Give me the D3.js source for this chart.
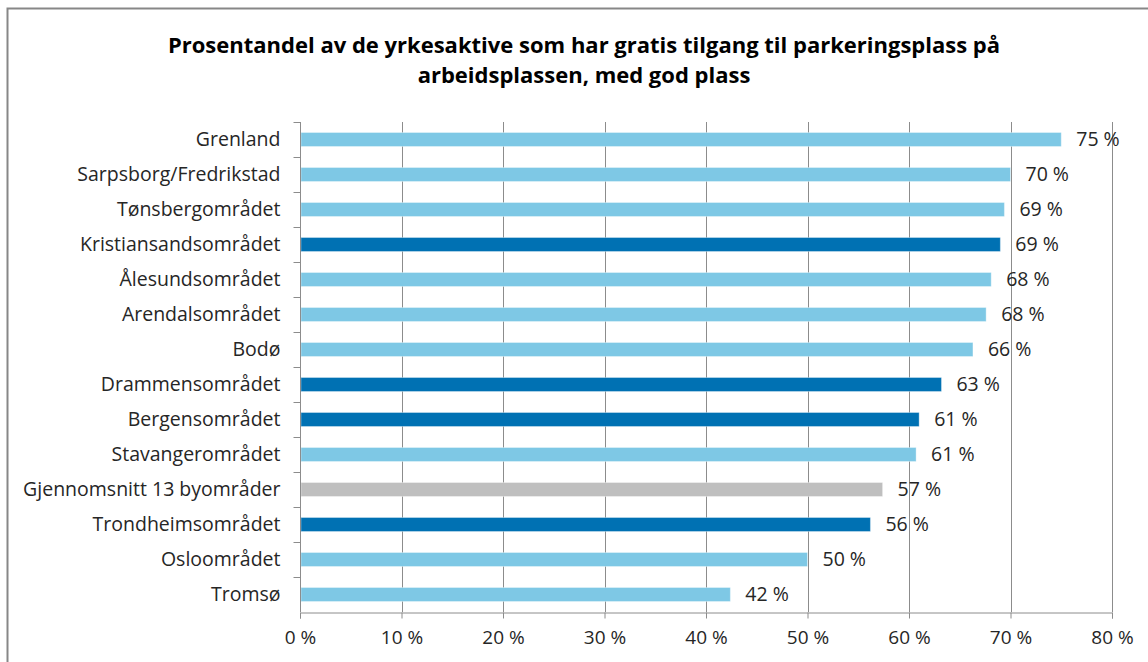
<!DOCTYPE html>
<html>
<head>
<meta charset="utf-8">
<script src="https://cdn.jsdelivr.net/npm/d3@7"></script>
<style>
  body { margin: 0; background: #fff; }
  svg text { font-family: "Open Sans", Lato, sans-serif; fill: #262626; }
</style>
</head>
<body>
<div id="chart"></div>
<script>
var categories = ["Grenland", "Sarpsborg/Fredrikstad", "Tønsbergområdet", "Kristiansandsområdet",
    "Ålesundsområdet", "Arendalsområdet", "Bodø", "Drammensområdet", "Bergensområdet",
    "Stavangerområdet", "Gjennomsnitt 13 byområder", "Trondheimsområdet", "Osloområdet", "Tromsø"];
var values = [75.0, 70.0, 69.4, 69.0, 68.1, 67.6, 66.3, 63.2, 61.0, 60.7, 57.4, 56.2, 50.0, 42.4];
var labels = ["75 %", "70 %", "69 %", "69 %", "68 %", "68 %", "66 %", "63 %", "61 %", "61 %", "57 %", "56 %", "50 %", "42 %"];
var groups = ["other", "other", "other", "big", "other", "other", "other", "big", "big", "other", "avg", "big", "other", "other"];
var xTicks = [0, 10, 20, 30, 40, 50, 60, 70, 80];
var titleLines = ["Prosentandel av de yrkesaktive som har gratis tilgang til parkeringsplass på",
    "arbeidsplassen, med god plass"];

var colors = { other: "#7ec8e5", big: "#0071b3", avg: "#bfbfbf" };

var width = 1148, height = 662;
var margin = { top: 122, right: 36, bottom: 50, left: 300 };

var svg = d3.select("#chart").append("svg").attr("width", width).attr("height", height);

// outer chart frame
svg.append("rect").attr("x", 7.5).attr("y", 8.5).attr("width", 1160).attr("height", 700)
    .attr("fill", "none").attr("stroke", "#878787").attr("stroke-width", 2);

svg.append("g").selectAll("text").data(titleLines).enter().append("text")
    .attr("x", 584).attr("y", function(d, i) { return 53 + i * 30; })
    .attr("text-anchor", "middle").style("font-size", "22px").style("font-weight", "bold")
    .style("fill", "#000").text(function(d) { return d; });

var x = d3.scaleLinear().domain([0, 80]).range([margin.left, width - margin.right]);
var y = d3.scaleBand().domain(categories).range([margin.top, height - margin.bottom]).paddingInner(0.6).paddingOuter(0.3);
var band = d3.scaleBand().domain(categories).range([margin.top, height - margin.bottom]);

// vertical gridlines
svg.append("g").selectAll("line").data(xTicks.slice(1)).enter().append("line")
    .attr("x1", function(d) { return Math.round(x(d)) + 0.5; })
    .attr("x2", function(d) { return Math.round(x(d)) + 0.5; })
    .attr("y1", margin.top).attr("y2", height - margin.bottom)
    .attr("stroke", "#8c8c8c").attr("stroke-width", 1);

svg.append("g").selectAll("rect").data(values).enter().append("rect")
    .attr("x", x(0) + 1)
    .attr("y", function(d, i) { return y(categories[i]); })
    .attr("width", function(d) { return x(d) - x(0) - 1; })
    .attr("height", y.bandwidth())
    .style("fill", function(d, i) { return colors[groups[i]]; })
    .attr("stroke", "#ffffff").attr("stroke-opacity", 0.35).attr("stroke-width", 1);

svg.append("g").selectAll("text").data(values).enter().append("text")
    .attr("x", function(d) { return x(d) + 15; })
    .attr("y", function(d, i) { return y(categories[i]) + y.bandwidth() / 2; })
    .attr("dy", "0.35em").style("font-size", "19.5px")
    .text(function(d, i) { return labels[i]; });

// x axis
var xAxis = d3.axisBottom(x).tickValues(xTicks).tickSize(6).tickPadding(12)
    .tickFormat(function(d) { return d + " %"; });
var gx = svg.append("g").attr("transform", "translate(0," + (height - margin.bottom + 0.5) + ")").call(xAxis);
gx.select(".domain").attr("stroke", "#8c8c8c");
gx.selectAll(".tick line").attr("stroke", "#8c8c8c");
gx.selectAll(".tick text").style("font-size", "19px")
    .style("font-family", null).attr("fill", null);

// y axis: ticks sit on band boundaries
var gy = svg.append("g").attr("transform", "translate(" + (margin.left + 0.5) + ",0)");
gy.append("line").attr("y1", margin.top).attr("y2", height - margin.bottom).attr("stroke", "#8c8c8c");
gy.selectAll(".bt").data(categories).enter().append("line").attr("class", "bt")
    .attr("x1", -7).attr("x2", 0)
    .attr("y1", function(d) { return Math.round(band(d)) + 0.5; })
    .attr("y2", function(d) { return Math.round(band(d)) + 0.5; })
    .attr("stroke", "#8c8c8c");
gy.selectAll("text").data(categories).enter().append("text")
    .attr("x", -20).attr("y", function(d) { return band(d) + band.bandwidth() / 2; })
    .attr("dy", "0.35em").attr("text-anchor", "end").style("font-size", "19.5px")
    .text(function(d) { return d; });
</script>
</body>
</html>
